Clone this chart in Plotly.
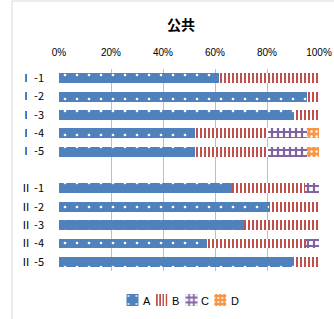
import plotly.graph_objects as go

categories = ["Ⅰ -1", "Ⅰ -2", "Ⅰ -3", "Ⅰ -4", "Ⅰ -5", " ", "Ⅱ -1", "Ⅱ -2", "Ⅱ -3", "Ⅱ -4", "Ⅱ -5"]
series_names = ["A", "B", "C", "D"]
a_vals = [0.616, 0.952, 0.904, 0.522, 0.522, None, 0.665, 0.809, 0.712, 0.568, 0.905]
b_vals = [0.384, 0.048, 0.096, 0.283, 0.283, None, 0.281, 0.191, 0.288, 0.382, 0.095]
c_vals = [0.0, 0.0, 0.0, 0.147, 0.147, None, 0.054, 0.0, 0.0, 0.050, 0.0]
d_vals = [0.0, 0.0, 0.0, 0.048, 0.048, None, 0.0, 0.0, 0.0, 0.0, 0.0]
x_ticks = [0, 0.2, 0.4, 0.6, 0.8, 1.0]
x_tick_labels = ["0%", "20%", "40%", "60%", "80%", "100%"]

W, H = 334, 319
L, R, T, B = 59, 15, 69, 48
PW, PH = W - L - R, H - T - B

def px_x(p):
    return (p - L) / PW

def px_y(p):
    return (H - B - p) / PH

styles = [
    dict(color="#4F81BD", pattern=dict(shape=".", fgcolor="#FFFFFF", bgcolor="#4F81BD", size=12, solidity=0.04, fillmode="replace")),
    dict(color="#C0504D", pattern=dict(shape="|", fgcolor="#C0504D", bgcolor="#FFFFFF", size=4, solidity=0.5, fillmode="replace")),
    dict(color="#8064A2", pattern=dict(shape="+", fgcolor="#8064A2", bgcolor="#FFFFFF", size=6, solidity=0.6, fillmode="replace")),
    dict(color="#F79646", pattern=dict(shape=".", fgcolor="#FFFFFF", bgcolor="#F79646", size=5, solidity=0.2, fillmode="replace")),
]
legend_ids = ["legend", "legend2", "legend3", "legend4"]
legend_symbol_px = [132.5, 161.7, 191.5, 220.3]
legend_text_px = [140.7, 170.0, 199.0, 228.7]

fig = go.Figure()
for name, vals, st, lg in zip(series_names, [a_vals, b_vals, c_vals, d_vals], styles, legend_ids):
    fig.add_trace(go.Bar(
        y=categories, x=vals, name=name, orientation="h", legend=lg,
        marker=dict(color=st["color"], pattern=st["pattern"], line=dict(width=0)),
    ))

legend_layout = {}
for lg, sx in zip(legend_ids, legend_symbol_px):
    legend_layout[lg] = dict(orientation="h", x=px_x(sx - 20), xanchor="left", y=px_y(300), yanchor="middle",
                             font=dict(family="Liberation Sans", size=1, color="rgba(0,0,0,0)"),
                             itemwidth=30, bgcolor="rgba(0,0,0,0)")

annotations = [
    dict(text=name, x=px_x(tx), y=px_y(300.5), xref="paper", yref="paper", xanchor="left", yanchor="middle",
         showarrow=False, font=dict(family="Liberation Sans", size=11, color="#000000"))
    for name, tx in zip(series_names, legend_text_px)
]

fig.update_layout(
    width=W, height=H,
    margin=dict(l=L, r=R, t=T, b=B, autoexpand=False),
    barmode="stack", bargap=0.46,
    paper_bgcolor="white", plot_bgcolor="white",
    showlegend=True,
    title=dict(text="<b>公共</b>", x=181 / W, xanchor="center", y=1 - 25 / H, yanchor="middle",
               xref="container", yref="container",
               font=dict(family="Noto Sans CJK JP", size=14, color="#000000")),
    xaxis=dict(side="top", range=[0, 1], tickvals=x_ticks, ticktext=x_tick_labels,
               showgrid=True, gridcolor="#BFBFBF", gridwidth=1, zeroline=False, showline=False,
               ticks="", ticklabelstandoff=10, automargin=False,
               tickfont=dict(family="Liberation Sans", size=10, color="#000000")),
    yaxis=dict(type="category", categoryorder="array", categoryarray=categories, autorange="reversed",
               showgrid=False, zeroline=False, showline=False, ticks="", ticklabelstandoff=14,
               automargin=False,
               tickfont=dict(family="Noto Sans CJK JP", size=11, color="#000000")),
    annotations=annotations,
    shapes=[dict(type="rect", xref="paper", yref="paper",
                 x0=px_x(12), x1=px_x(345), y0=px_y(330), y1=px_y(1),
                 line=dict(color="#D9D9D9", width=1), fillcolor="rgba(0,0,0,0)", layer="below")],
    **legend_layout,
)

fig.write_html("out.html", config={"displayModeBar": False},
               post_script="document.body.style.margin='0';")
